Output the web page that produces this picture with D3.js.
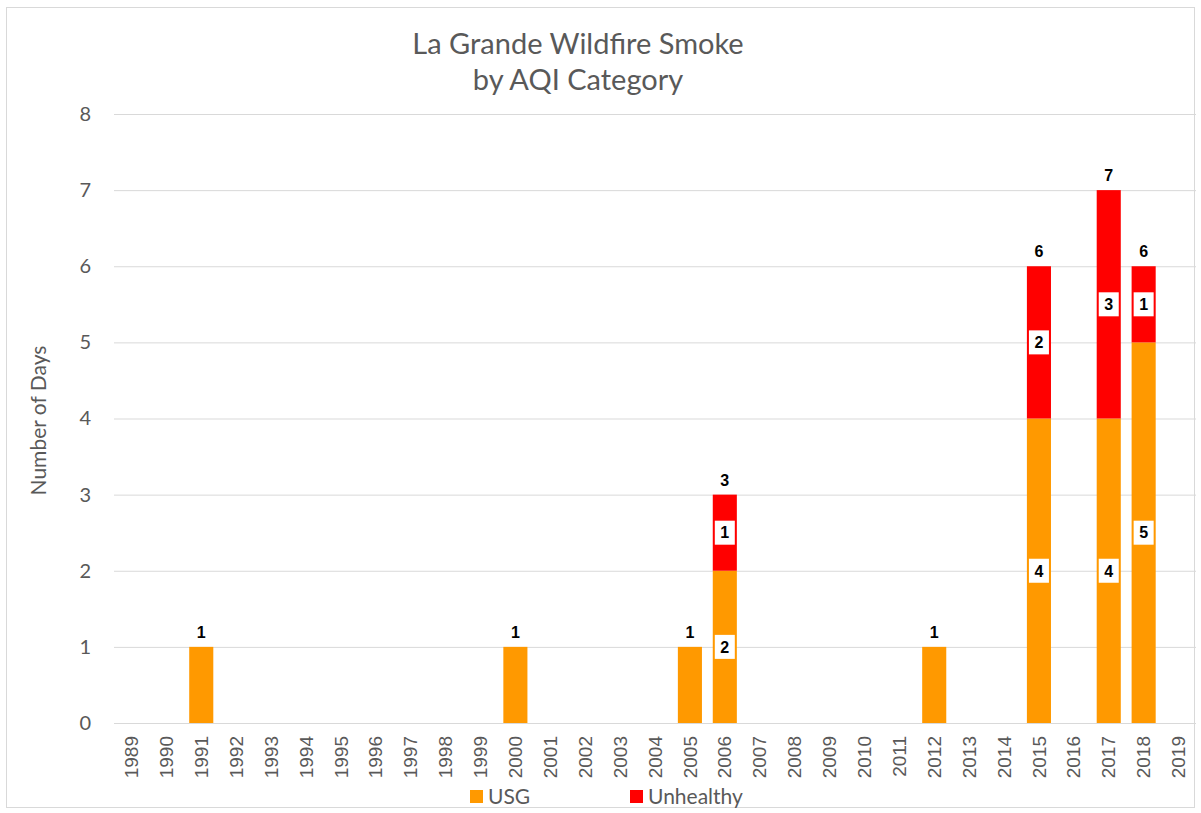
<!DOCTYPE html>
<html>
<head>
<meta charset="utf-8">
<script src="https://cdn.jsdelivr.net/npm/d3@7/dist/d3.min.js"></script>
<style>
  body { margin: 0; background: #fff; }
  svg { display: block; }
</style>
</head>
<body>
<div id="chart"></div>
<script>
'use strict';

const years = d3.range(1989, 2020).map(String);
const usgYears = ['1991', '2000', '2005', '2006', '2012', '2015', '2017', '2018'];
const usgDays = [1, 1, 1, 2, 1, 4, 4, 5];
const unhealthyYears = ['2006', '2015', '2017', '2018'];
const unhealthyDays = [1, 2, 3, 1];
const yTicks = [0, 1, 2, 3, 4, 5, 6, 7, 8];
const seriesNames = ['USG', 'Unhealthy'];
const seriesColors = ['#ff9900', '#ff0000'];

const width = 1201;
const height = 813;
const margin = {top: 114, right: 5, bottom: 90, left: 114};

// build the table
const rows = years.map(y => {
    const i = usgYears.indexOf(y);
    const j = unhealthyYears.indexOf(y);
    return {year: y, USG: i >= 0 ? usgDays[i] : 0, Unhealthy: j >= 0 ? unhealthyDays[j] : 0};
});

const svg = d3.select('#chart').append('svg')
    .attr('width', width)
    .attr('height', height);

svg.append('rect')
    .attr('x', 6.5).attr('y', 7.5)
    .attr('width', width - 13).attr('height', height - 13)
    .attr('fill', '#fff').attr('stroke', '#d9d9d9');

const x = d3.scaleBand()
    .domain(years)
    .range([margin.left, width - margin.right])
    .paddingInner(0.31)
    .paddingOuter(0.155);

const y = d3.scaleLinear()
    .domain([0, 8])
    .range([height - margin.bottom, margin.top]);

// gridlines
svg.append('g')
    .selectAll('line')
    .data(yTicks)
    .join('line')
    .attr('x1', margin.left).attr('x2', width - margin.right)
    .attr('y1', d => y(d) + 0.5).attr('y2', d => y(d) + 0.5)
    .attr('stroke', '#d9d9d9');

// y axis
const yAxis = svg.append('g')
    .attr('transform', `translate(${margin.left - 23},0)`)
    .call(d3.axisLeft(y).tickValues(yTicks).tickSize(0).tickPadding(0));
yAxis.select('.domain').remove();
yAxis.selectAll('text')
    .attr('fill', '#595959')
    .style('font-family', 'Lato, "Open Sans", sans-serif')
    .style('font-size', '20px');

// x axis
const xAxis = svg.append('g')
    .attr('transform', `translate(0,${y(0)})`)
    .call(d3.axisBottom(x).tickSize(0).tickPadding(0));
xAxis.select('.domain').remove();
xAxis.selectAll('text')
    .attr('transform', 'rotate(-90)')
    .attr('x', -13)
    .attr('y', 0)
    .attr('dy', '0.35em')
    .attr('text-anchor', 'end')
    .attr('fill', '#595959')
    .style('font-family', '"Liberation Sans", Arial, sans-serif')
    .style('font-size', '19px');

// bars
const stack = d3.stack().keys(seriesNames)(rows);
svg.append('g')
    .selectAll('g')
    .data(stack)
    .join('g')
    .attr('fill', (d, i) => seriesColors[i])
    .selectAll('rect')
    .data(d => d.filter(s => s[1] > s[0]))
    .join('rect')
    .attr('x', d => x(d.data.year))
    .attr('width', x.bandwidth())
    .attr('y', d => y(d[1]))
    .attr('height', d => y(d[0]) - y(d[1]));

// segment labels for stacked bars
const segs = [];
stack.forEach(s => s.forEach(d => {
    if (d[1] > d[0] && d.data.USG > 0 && d.data.Unhealthy > 0) {
        segs.push({year: d.data.year, mid: (d[0] + d[1]) / 2, v: d[1] - d[0]});
    }
}));
const segG = svg.append('g').selectAll('g')
    .data(segs)
    .join('g')
    .attr('transform', d => `translate(${x(d.year) + x.bandwidth() / 2},${y(d.mid)})`);
segG.append('rect')
    .attr('x', -10).attr('y', -12)
    .attr('width', 20).attr('height', 24)
    .attr('fill', '#fff');
segG.append('text')
    .attr('text-anchor', 'middle')
    .attr('dy', '0.36em')
    .style('font-family', '"Liberation Sans", Arial, sans-serif')
    .style('font-size', '16px')
    .style('font-weight', 'bold')
    .text(d => d.v);

// totals
svg.append('g').selectAll('text')
    .data(rows.filter(r => r.USG + r.Unhealthy > 0))
    .join('text')
    .attr('x', d => x(d.year) + x.bandwidth() / 2)
    .attr('y', d => y(d.USG + d.Unhealthy) - 9)
    .attr('text-anchor', 'middle')
    .style('font-family', '"Liberation Sans", Arial, sans-serif')
    .style('font-size', '16px')
    .style('font-weight', 'bold')
    .text(d => d.USG + d.Unhealthy);

// title
const title = svg.append('text')
    .attr('x', 578)
    .attr('text-anchor', 'middle')
    .attr('fill', '#595959')
    .style('font-family', 'Lato, "Open Sans", sans-serif')
    .style('font-size', '29px');
title.append('tspan').attr('x', 578).attr('y', 54).text('La Grande Wildfire Smoke');
title.append('tspan').attr('x', 578).attr('y', 90).text('by AQI Category');

// y title
svg.append('text')
    .attr('transform', `translate(46,${(y(0) + y(8)) / 2 + 2}) rotate(-90)`)
    .attr('text-anchor', 'middle')
    .attr('fill', '#595959')
    .style('font-family', 'Lato, "Open Sans", sans-serif')
    .style('font-size', '21px')
    .text('Number of Days');

// legend
const legendX = [470, 630];
const leg = svg.append('g').selectAll('g')
    .data(seriesNames)
    .join('g')
    .attr('transform', (d, i) => `translate(${legendX[i]},790)`);
leg.append('rect')
    .attr('width', 13).attr('height', 13)
    .attr('fill', (d, i) => seriesColors[i]);
leg.append('text')
    .attr('x', 18).attr('y', 7)
    .attr('dy', '0.35em')
    .attr('fill', '#595959')
    .style('font-family', 'Lato, "Open Sans", sans-serif')
    .style('font-size', '21px')
    .text(d => d);
</script>
</body>
</html>
